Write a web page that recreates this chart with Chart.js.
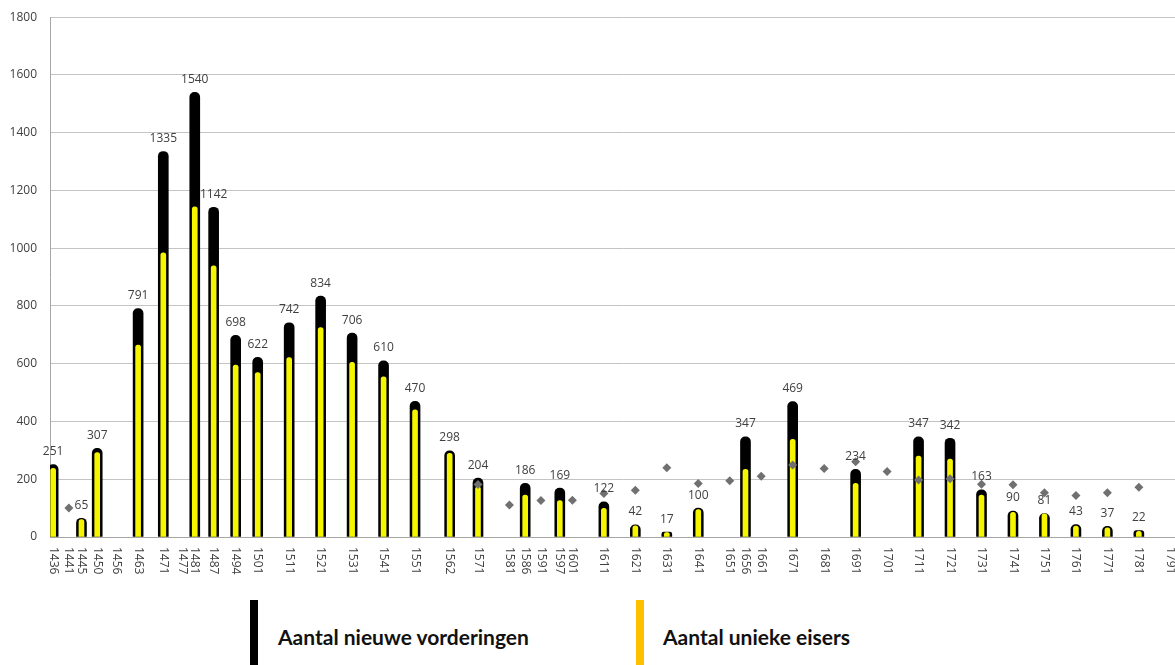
<!DOCTYPE html>
<html lang="nl">
<head>
<meta charset="UTF-8">
<title>Vorderingen per jaar</title>
<script src="https://cdn.jsdelivr.net/npm/chart.js"></script>
<style>
    html, body { margin: 0; padding: 0; background: #fff; overflow: hidden; }
    body { width: 1175px; height: 665px; position: relative; }
    .chart-box { position: absolute; left: 0; top: -3px; width: 1200px; height: 593px; }
    .legend-item { position: absolute; top: 600px; height: 80px; }
    .legend-mark { position: absolute; left: 0; top: 0; width: 8px; height: 80px; }
    .legend-text {
        position: absolute; top: 24px; white-space: nowrap;
        font-family: Lato, 'Open Sans', sans-serif; font-weight: 700; font-size: 21px; color: #111;
    }
</style>
</head>
<body>
<div class="chart-box"><canvas id="vorderingenChart"></canvas></div>

<div class="legend-item" style="left:250px">
    <div class="legend-mark" style="background:#000"></div>
    <div class="legend-text" style="left:28px">Aantal nieuwe vorderingen</div>
</div>
<div class="legend-item" style="left:636px">
    <div class="legend-mark" style="background:#ffc000"></div>
    <div class="legend-text" style="left:27px">Aantal unieke eisers</div>
</div>

<script>
// jaartallen op de x-as
const jaren = [1436, 1441, 1445, 1450, 1456, 1463, 1471, 1477, 1481, 1487, 1494, 1501, 1511, 1521, 1531,
    1541, 1551, 1562, 1571, 1581, 1586, 1591, 1597, 1601, 1611, 1621, 1631, 1641, 1651, 1656, 1661, 1671,
    1681, 1691, 1701, 1711, 1721, 1731, 1741, 1751, 1761, 1771, 1781, 1791];

// Aantal nieuwe vorderingen (null = geen waarde)
const nieuweVorderingen = [251, null, 65, 307, null, 791, 1335, null, 1540, 1142, 698, 622, 742, 834, 706,
    610, 470, 298, 204, null, 186, null, 169, null, 122, 42, 17, 100, null, 347, null, 469,
    null, 234, null, 347, 342, 163, 90, 81, 43, 37, 22, null];

// Aantal unieke eisers
const uniekeEisers = [238, null, 60, 292, null, 665, 984, null, 1143, 939, 595, 569, 621, 725, 605,
    555, 440, 290, 174, null, 145, null, 126, null, 99, 39, 15, 95, null, 234, null, 338,
    null, 186, null, 280, 270, 145, 85, 80, 38, 32, 20, null];

// grijze ruitjes
const ruitjes = [null, 100, null, null, null, null, null, null, null, null, null, null, null, null, null,
    null, null, null, 182, 111, null, 126, null, 127, 151, 162, 240, 185, 195, null, 210, 249,
    237, 261, 227, 197, 202, 183, 181, 153, 144, 153, 172, null];

const yTicks = [0, 200, 400, 600, 800, 1000, 1200, 1400, 1600, 1800];

function toPoints(values) {
    return jaren.map((j, i) => ({ x: j, y: values[i] })).filter(p => p.y !== null);
}

// waarden boven de zwarte staven + gedraaide jaartallen onder de as
const labelsPlugin = {
    id: 'labelsPlugin',
    afterDatasetsDraw(chart) {
        const ctx = chart.ctx;
        const xs = chart.scales.x;
        const ys = chart.scales.y;
        ctx.save();
        ctx.fillStyle = '#404040';
        ctx.font = '12px "Open Sans", sans-serif';
        ctx.textAlign = 'center';
        ctx.textBaseline = 'bottom';
        nieuweVorderingen.forEach((v, i) => {
            if (v === null) return;
            ctx.fillText(String(v), xs.getPixelForValue(jaren[i]), ys.getPixelForValue(v) - 7);
        });
        ctx.textAlign = 'left';
        ctx.textBaseline = 'middle';
        jaren.forEach(j => {
            ctx.save();
            ctx.translate(xs.getPixelForValue(j), xs.top + 10);
            ctx.rotate(Math.PI / 2);
            ctx.fillText(String(j), 0, 0);
            ctx.restore();
        });
        ctx.restore();
    }
};

const ctx = document.getElementById('vorderingenChart').getContext('2d');
new Chart(ctx, {
    type: 'bar',
    data: {
        datasets: [
            {
                type: 'scatter',
                label: 'ruitjes',
                data: toPoints(ruitjes),
                pointStyle: 'rectRot',
                pointRadius: 4.5,
                backgroundColor: '#707070',
                borderColor: '#707070',
                borderWidth: 0,
                order: 0
            },
            {
                label: 'Aantal unieke eisers',
                data: toPoints(uniekeEisers),
                backgroundColor: '#f5f500',
                barThickness: 5,
                borderRadius: { topLeft: 2.5, topRight: 2.5 },
                borderSkipped: 'bottom',
                grouped: false,
                order: 1
            },
            {
                label: 'Aantal nieuwe vorderingen',
                data: toPoints(nieuweVorderingen),
                backgroundColor: '#000000',
                barThickness: 10,
                borderRadius: { topLeft: 5, topRight: 5 },
                borderSkipped: 'bottom',
                grouped: false,
                order: 2
            }
        ]
    },
    options: {
        responsive: true,
        maintainAspectRatio: false,
        animation: false,
        layout: { padding: { top: 4, right: 0, left: 0, bottom: 0 } },
        plugins: {
            legend: { display: false },
            tooltip: { enabled: false }
        },
        scales: {
            x: {
                type: 'linear',
                min: 1435,
                max: 1799,
                offset: false,
                grid: { display: false },
                border: { color: '#a6a6a6' },
                ticks: { display: false },
                afterFit(scale) { scale.height = 53; }
            },
            y: {
                min: 0,
                max: 1800,
                afterBuildTicks(scale) { scale.ticks = yTicks.map(v => ({ value: v })); },
                grid: { color: '#c4c4c4', drawTicks: false },
                border: { color: '#a6a6a6' },
                ticks: {
                    padding: 13,
                    color: '#404040',
                    font: { family: '"Open Sans", sans-serif', size: 12 },
                    callback: v => String(v)
                },
                afterFit(scale) { scale.width = 50; }
            }
        }
    },
    plugins: [labelsPlugin]
});
</script>
</body>
</html>
